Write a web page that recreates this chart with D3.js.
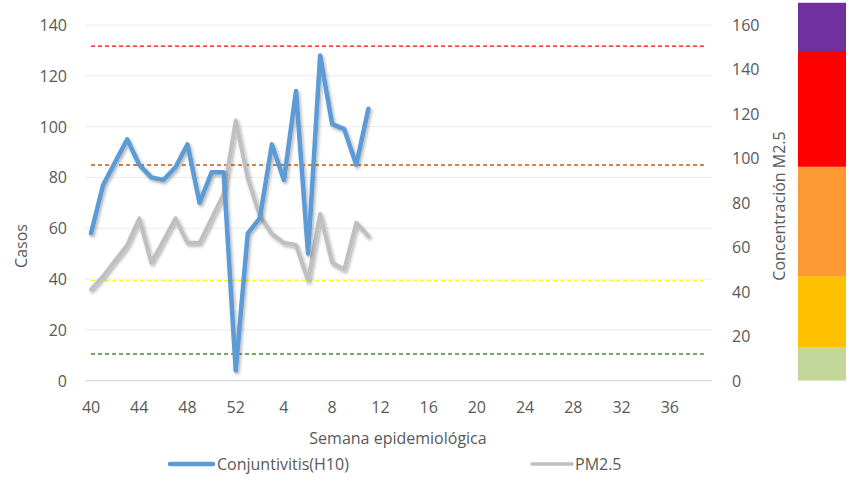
<!DOCTYPE html>
<meta charset="utf-8">
<style>
  body { margin: 0; background: #fff; }
  svg text { font-family: "Open Sans", sans-serif; fill: #595959; }
  .grid line { stroke: #ececec; stroke-width: 1; }
</style>
<svg width="856" height="499"></svg>
<script src="https://cdn.jsdelivr.net/npm/d3@7"></script>
<script>
// semanas epidemiologicas (40..52 de un año, 1..39 del siguiente)
var weeks = [40,41,42,43,44,45,46,47,48,49,50,51,52,
  1,2,3,4,5,6,7,8,9,10,11,12,13,14,15,16,17,18,19,20,21,22,23,24,25,26,
  27,28,29,30,31,32,33,34,35,36,37,38,39];
var tickWeeks = [40,44,48,52,4,8,12,16,20,24,28,32,36];

// casos conjuntivitis (eje izq), semanas 40 .. 11
var conjuntivitis = [58,77,86,95,85,80,79,84,93,70,82,82,4,
  58,64,93,79,114,50,128,101,99,85,107];
// PM2.5 (eje der)
var pm25 = [41,47,54,61,73,53,63,73,62,62,73,84,117,
  91,74,66,62,61,45,75,53,50,71,65];

// limites (eje der) lineas punteadas
var limits = [150.5, 97, 45, 12];
var limitColors = ["#ff0000", "#c55a11", "#ffff00", "#548235"];

// barra de colores de calidad del aire (eje der)
var bandEdges = [0, 14.8, 47, 96.2, 148.3, 170];
var bandColors = ["#c4d79b", "#ffc000", "#ff9933", "#ff0000", "#7030a0"];

var leftTicks = [0,20,40,60,80,100,120,140];
var rightTicks = [0,20,40,60,80,100,120,140,160];

var svg = d3.select("svg");

var defs = svg.append("defs");
var f = defs.append("filter").attr("id", "shadow")
  .attr("x", "-10%").attr("y", "-10%").attr("width", "130%").attr("height", "130%");
f.append("feDropShadow").attr("dx", 1.5).attr("dy", 2).attr("stdDeviation", 1.5)
  .attr("flood-color", "#000").attr("flood-opacity", 0.3);

var plotL = 85, plotR = 712, plotT = 25, plotB = 380.6;

var x = d3.scalePoint().domain(weeks).range([plotL, plotR]).padding(0.5);
var y = d3.scaleLinear().domain([0, 140]).range([plotB, plotT]);
var yR = d3.scaleLinear().domain([0, 160]).range([plotB, plotT]);

// grid
svg.append("g").attr("class", "grid")
  .selectAll("line").data(leftTicks.slice(1)).enter().append("line")
  .attr("x1", plotL).attr("x2", plotR)
  .attr("y1", function(d){ return y(d); }).attr("y2", function(d){ return y(d); });

svg.append("line").attr("x1", plotL).attr("x2", plotR)
  .attr("y1", plotB).attr("y2", plotB)
  .attr("stroke", "#d9d9d9").attr("stroke-width", 1.2);

// left axis labels
svg.append("g").selectAll("text").data(leftTicks).enter().append("text")
  .attr("x", 67).attr("y", function(d){ return y(d) + 6; })
  .attr("text-anchor", "end").style("font-size", "16px")
  .text(function(d){ return d; });

// right axis labels
svg.append("g").selectAll("text").data(rightTicks).enter().append("text")
  .attr("x", 732).attr("y", function(d){ return yR(d) + 6; })
  .attr("text-anchor", "start").style("font-size", "16px")
  .text(function(d){ return d; });

// x labels
svg.append("g").selectAll("text").data(tickWeeks).enter().append("text")
  .attr("x", function(d){ return x(d); }).attr("y", 413)
  .attr("text-anchor", "middle").style("font-size", "16px")
  .text(function(d){ return d; });

// axis titles
svg.append("text").attr("transform", "translate(27,246) rotate(-90)")
  .attr("text-anchor", "middle").style("font-size", "16px").text("Casos");
svg.append("text").attr("transform", "translate(785,206) rotate(-90)")
  .attr("text-anchor", "middle").style("font-size", "16px").text("Concentración M2.5");
svg.append("text").attr("x", 398).attr("y", 444)
  .attr("text-anchor", "middle").style("font-size", "16px").text("Semana epidemiológica");

// limit lines
svg.append("g").selectAll("line").data(limits).enter().append("line")
  .attr("x1", x(weeks[0])).attr("x2", x(weeks[weeks.length - 1]) - 2)
  .attr("y1", function(d){ return yR(d); }).attr("y2", function(d){ return yR(d); })
  .attr("stroke", function(d, i){ return limitColors[i]; })
  .attr("stroke-width", 1.4).attr("stroke-dasharray", "4,3");

// series
var pmLine = d3.line()
  .x(function(d, i){ return x(weeks[i]); })
  .y(function(d){ return yR(d); });
var cLine = d3.line()
  .x(function(d, i){ return x(weeks[i]); })
  .y(function(d){ return y(d); });

svg.append("path").datum(pm25).attr("d", pmLine)
  .attr("fill", "none").attr("stroke", "#bfbfbf").attr("stroke-width", 4)
  .attr("stroke-linejoin", "round").attr("stroke-linecap", "round")
  .attr("filter", "url(#shadow)");

svg.append("path").datum(conjuntivitis).attr("d", cLine)
  .attr("fill", "none").attr("stroke", "#5b9bd5").attr("stroke-width", 4.5)
  .attr("stroke-linejoin", "round").attr("stroke-linecap", "round")
  .attr("filter", "url(#shadow)");

// color bar
svg.append("g").selectAll("rect").data(bandColors).enter().append("rect")
  .attr("x", 798).attr("width", 48)
  .attr("y", function(d, i){ return yR(bandEdges[i + 1]); })
  .attr("height", function(d, i){ return yR(bandEdges[i]) - yR(bandEdges[i + 1]); })
  .attr("fill", function(d){ return d; });

// legend
var leg = svg.append("g");
leg.append("line").attr("x1", 170).attr("x2", 213).attr("y1", 464).attr("y2", 464)
  .attr("stroke", "#5b9bd5").attr("stroke-width", 4.5).attr("stroke-linecap", "round");
leg.append("text").attr("x", 217).attr("y", 470).style("font-size", "16px").text("Conjuntivitis(H10)");
leg.append("line").attr("x1", 532).attr("x2", 572).attr("y1", 464).attr("y2", 464)
  .attr("stroke", "#bfbfbf").attr("stroke-width", 3.5).attr("stroke-linecap", "round");
leg.append("text").attr("x", 575).attr("y", 470).style("font-size", "16px").text("PM2.5");
</script>
